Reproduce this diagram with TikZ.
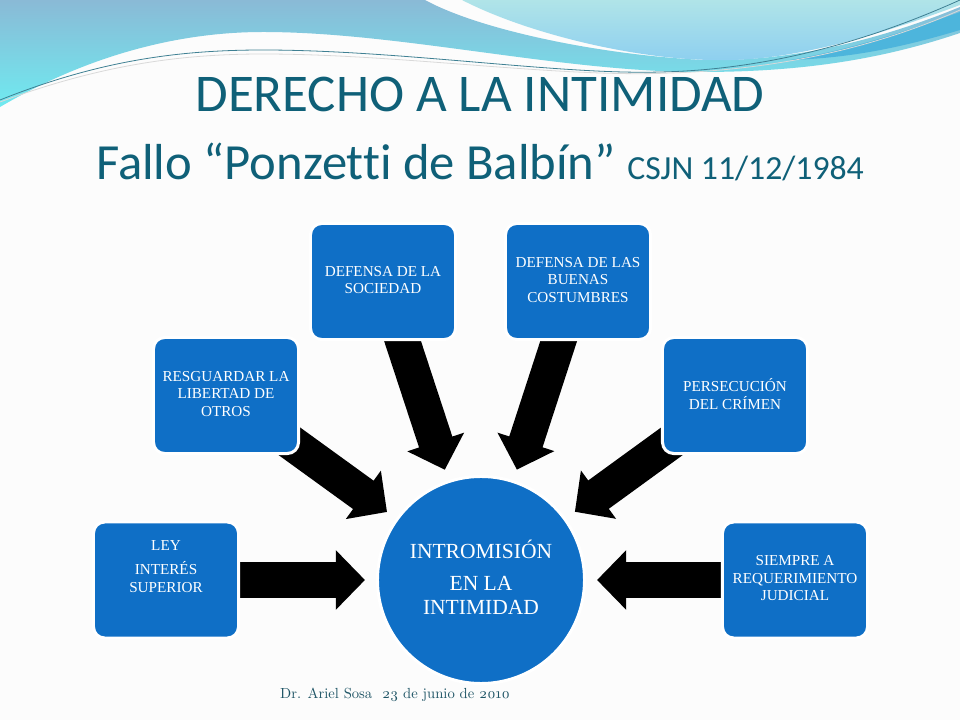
\documentclass[tikz,border=0pt]{standalone}
\usepackage{fontspec}
\setmainfont{Liberation Serif}
\newfontfamily\titlefont[Ligatures=NoCommon]{Carlito}
\newfontfamily\footfont[Numbers=OldStyle]{Latin Modern Roman}
\usetikzlibrary{arrows.meta,backgrounds}
\definecolor{box_blue}{HTML}{0F6FC6}
\definecolor{title_teal}{HTML}{0F6078}
\definecolor{foot_teal}{HTML}{1F5566}
\definecolor{wave_top}{HTML}{8ABAD6}
\definecolor{wave_mid}{HTML}{7FD3E3}
\definecolor{wave_low}{HTML}{6FEAF0}
\definecolor{wave2_top}{HTML}{B0E4E8}
\definecolor{wave2_low}{HTML}{8DCFF0}
\definecolor{wave3}{HTML}{4DB5DC}
\begin{document}
\begin{tikzpicture}[x=0.025cm, y=-0.025cm]
        \tikzstyle{topic_box}  = [shape = rectangle, rounded corners=0.28cm, fill = box_blue, draw = white, line width=0.075cm,
                                  minimum width=3.625cm, minimum height=2.9cm, inner sep=0pt, outer sep=0pt,
                                  text = white, align = center, font=\fontsize{10.8}{12.4}\selectfont, text depth=2.4pt]
        \tikzstyle{main_node}  = [shape = circle, fill = box_blue, draw = white, line width=0.075cm,
                                  minimum size=5.175cm, inner sep=0pt, outer sep=0pt,
                                  text = white, align = center, font=\fontsize{15.3}{17}\selectfont, text depth=4pt]
        \tikzstyle{fat_arrow}  = [-{Triangle[length=0.73cm, width=1.45cm]}, black, line width=0.875cm,
                                  shorten >=0.3125cm, shorten <=-0.5cm]

        \useasboundingbox (0,0) rectangle (960,720);

        \node[main_node] at (481,580) (n_intro) {INTROMISIÓN\\[5.5pt] EN LA\\ INTIMIDAD};

        \node[topic_box] at (166,580) (n_ley) {LEY\\[5pt] INTERÉS\\ SUPERIOR\\[5pt]};
        \node[topic_box] at (226,395.5) (n_otros) {RESGUARDAR LA\\ LIBERTAD DE\\ OTROS};
        \node[topic_box] at (383,281.5) (n_sociedad) {DEFENSA DE LA\\ SOCIEDAD};
        \node[topic_box] at (578,281.5) (n_costumbres) {DEFENSA DE LAS\\ BUENAS\\ COSTUMBRES};
        \node[topic_box] at (735,395.5) (n_crimen) {PERSECUCIÓN\\ DEL CRÍMEN};
        \node[topic_box] at (795,580) (n_judicial) {SIEMPRE A\\ REQUERIMIENTO\\ JUDICIAL};

        \node[text = title_teal, font=\titlefont\fontsize{37.7}{42}\selectfont] at (480,94) (n_title) {DERECHO A LA INTIMIDAD};
        \node[text = title_teal, font=\titlefont\fontsize{36}{42}\selectfont, anchor=base] at (480,180) (n_fallo)
          {Fallo “Ponzetti de Balbín” {\fontsize{24}{28}\selectfont CSJN 11/12/1984}};
        \node[text = foot_teal, font=\footfont\fontsize{10.4}{12}\selectfont] at (395,695) (n_foot) {Dr. Ariel Sosa\ \ 23 de junio de 2010};

        \begin{pgfonlayer}{background}
          \fill[white!99!black] (0,0) rectangle (960,720);

          % waves at the top
          \shade[top color=wave_top, middle color=wave_mid, bottom color=wave_low]
            (0,0) -- (425,0) .. controls (480,30) and (600,55) .. (704,60)
            .. controls (790,62) and (880,40) .. (960,7) -- (960,33)
            .. controls (880,60) and (800,72) .. (700,72)
            .. controls (560,72) and (400,32) .. (263,32)
            .. controls (170,32) and (80,60) .. (0,107) -- cycle;
          \shade[top color=wave2_top, bottom color=wave2_low]
            (462,0) .. controls (530,35) and (640,60) .. (716,60)
            .. controls (790,62) and (880,35) .. (960,5) -- (960,0) -- cycle;
          \fill[wave3]
            (790,60) .. controls (850,50) and (910,30) .. (960,12) -- (960,30) .. controls (900,48) and (850,58) .. (790,60) -- cycle;
          \draw[title_teal!80, line width=0.02cm]
            (0,100) .. controls (100,60) and (180,50) .. (263,50)
            .. controls (400,50) and (560,75) .. (660,72)
            .. controls (760,70) and (860,45) .. (960,0);
          \draw[white!70!gray, line width=0.02cm]
            (0,102) .. controls (100,65) and (180,54) .. (263,54)
            .. controls (400,54) and (560,78) .. (670,73)
            .. controls (770,70) and (870,50) .. (960,10);

          \draw[fat_arrow] (n_ley) -- (n_intro);
          \draw[fat_arrow] (n_otros) -- (n_intro);
          \draw[fat_arrow] (n_sociedad) -- (n_intro);
          \draw[fat_arrow] (n_costumbres) -- (n_intro);
          \draw[fat_arrow] (n_crimen) -- (n_intro);
          \draw[fat_arrow] (n_judicial) -- (n_intro);
        \end{pgfonlayer}
      \end{tikzpicture}
\end{document}
